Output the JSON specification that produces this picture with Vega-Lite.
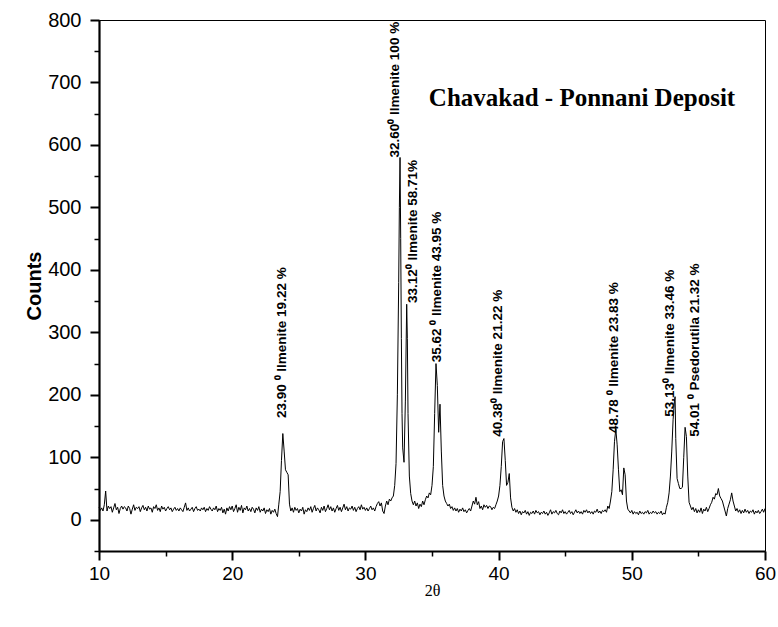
{
  "$schema": "https://vega.github.io/schema/vega-lite/v6.json",
  "width": 666,
  "height": 531,
  "autosize": {"type": "none"},
  "padding": {"left": 99, "top": 20, "right": 13, "bottom": 76},
  "background": "white",
  "config": {
    "view": {"stroke": "black", "strokeWidth": 1},
    "axis": {"grid": false, "domainColor": "black", "tickColor": "black", "labelColor": "black", "titleColor": "black", "labelFont": "Liberation Sans", "titleFont": "Liberation Sans"}
  },
  "datasets": {
    "xrd": [
      {"t":10.0,"c":20},{"t":10.1,"c":15},{"t":10.2,"c":19},{"t":10.3,"c":14},{"t":10.4,"c":24},{"t":10.5,"c":46},{"t":10.6,"c":14},{"t":10.7,"c":22},{"t":10.8,"c":18},{"t":10.9,"c":21},
      {"t":11.0,"c":12},{"t":11.1,"c":19},{"t":11.2,"c":26},{"t":11.3,"c":16},{"t":11.4,"c":20},{"t":11.5,"c":10},{"t":11.6,"c":18},{"t":11.7,"c":22},{"t":11.8,"c":17},{"t":11.9,"c":21},
      {"t":12.0,"c":19},{"t":12.1,"c":14},{"t":12.2,"c":22},{"t":12.3,"c":18},{"t":12.4,"c":9},{"t":12.5,"c":17},{"t":12.6,"c":24},{"t":12.7,"c":15},{"t":12.8,"c":20},{"t":12.9,"c":18},
      {"t":13.0,"c":21},{"t":13.1,"c":13},{"t":13.2,"c":19},{"t":13.3,"c":23},{"t":13.4,"c":16},{"t":13.5,"c":20},{"t":13.6,"c":14},{"t":13.7,"c":22},{"t":13.8,"c":17},{"t":13.9,"c":19},
      {"t":14.0,"c":12},{"t":14.1,"c":21},{"t":14.2,"c":18},{"t":14.3,"c":24},{"t":14.4,"c":15},{"t":14.5,"c":19},{"t":14.6,"c":13},{"t":14.7,"c":22},{"t":14.8,"c":17},{"t":14.9,"c":20},
      {"t":15.0,"c":14},{"t":15.1,"c":18},{"t":15.2,"c":21},{"t":15.3,"c":16},{"t":15.4,"c":19},{"t":15.5,"c":13},{"t":15.6,"c":17},{"t":15.7,"c":20},{"t":15.8,"c":15},{"t":15.9,"c":18},
      {"t":16.0,"c":14},{"t":16.1,"c":19},{"t":16.2,"c":16},{"t":16.3,"c":13},{"t":16.4,"c":20},{"t":16.5,"c":27},{"t":16.6,"c":15},{"t":16.7,"c":19},{"t":16.8,"c":14},{"t":16.9,"c":17},
      {"t":17.0,"c":20},{"t":17.1,"c":13},{"t":17.2,"c":18},{"t":17.3,"c":21},{"t":17.4,"c":15},{"t":17.5,"c":17},{"t":17.6,"c":14},{"t":17.7,"c":19},{"t":17.8,"c":16},{"t":17.9,"c":20},
      {"t":18.0,"c":13},{"t":18.1,"c":18},{"t":18.2,"c":15},{"t":18.3,"c":21},{"t":18.4,"c":17},{"t":18.5,"c":14},{"t":18.6,"c":19},{"t":18.7,"c":16},{"t":18.8,"c":22},{"t":18.9,"c":13},
      {"t":19.0,"c":18},{"t":19.1,"c":15},{"t":19.2,"c":20},{"t":19.3,"c":11},{"t":19.4,"c":17},{"t":19.5,"c":9},{"t":19.6,"c":19},{"t":19.7,"c":14},{"t":19.8,"c":21},{"t":19.9,"c":16},
      {"t":20.0,"c":22},{"t":20.1,"c":13},{"t":20.2,"c":18},{"t":20.3,"c":24},{"t":20.4,"c":12},{"t":20.5,"c":20},{"t":20.6,"c":15},{"t":20.7,"c":23},{"t":20.8,"c":11},{"t":20.9,"c":19},
      {"t":21.0,"c":16},{"t":21.1,"c":22},{"t":21.2,"c":14},{"t":21.3,"c":18},{"t":21.4,"c":13},{"t":21.5,"c":20},{"t":21.6,"c":17},{"t":21.7,"c":11},{"t":21.8,"c":19},{"t":21.9,"c":15},
      {"t":22.0,"c":21},{"t":22.1,"c":12},{"t":22.2,"c":17},{"t":22.3,"c":14},{"t":22.4,"c":19},{"t":22.5,"c":10},{"t":22.6,"c":16},{"t":22.7,"c":13},{"t":22.8,"c":18},{"t":22.9,"c":9},
      {"t":23.0,"c":15},{"t":23.1,"c":12},{"t":23.2,"c":17},{"t":23.3,"c":10},{"t":23.4,"c":5},{"t":23.5,"c":25},{"t":23.6,"c":45},{"t":23.7,"c":95},{"t":23.8,"c":138},{"t":23.9,"c":110},
      {"t":24.0,"c":80},{"t":24.1,"c":76},{"t":24.2,"c":72},{"t":24.3,"c":25},{"t":24.4,"c":14},{"t":24.5,"c":19},{"t":24.6,"c":12},{"t":24.7,"c":20},{"t":24.8,"c":15},{"t":24.9,"c":18},
      {"t":25.0,"c":11},{"t":25.1,"c":17},{"t":25.2,"c":14},{"t":25.3,"c":20},{"t":25.4,"c":9},{"t":25.5,"c":16},{"t":25.6,"c":13},{"t":25.7,"c":19},{"t":25.8,"c":15},{"t":25.9,"c":21},
      {"t":26.0,"c":12},{"t":26.1,"c":18},{"t":26.2,"c":23},{"t":26.3,"c":14},{"t":26.4,"c":19},{"t":26.5,"c":16},{"t":26.6,"c":11},{"t":26.7,"c":20},{"t":26.8,"c":15},{"t":26.9,"c":22},
      {"t":27.0,"c":13},{"t":27.1,"c":18},{"t":27.2,"c":24},{"t":27.3,"c":16},{"t":27.4,"c":21},{"t":27.5,"c":14},{"t":27.6,"c":19},{"t":27.7,"c":12},{"t":27.8,"c":18},{"t":27.9,"c":23},
      {"t":28.0,"c":15},{"t":28.1,"c":20},{"t":28.2,"c":13},{"t":28.3,"c":19},{"t":28.4,"c":25},{"t":28.5,"c":16},{"t":28.6,"c":21},{"t":28.7,"c":14},{"t":28.8,"c":19},{"t":28.9,"c":17},
      {"t":29.0,"c":22},{"t":29.1,"c":15},{"t":29.2,"c":20},{"t":29.3,"c":13},{"t":29.4,"c":18},{"t":29.5,"c":21},{"t":29.6,"c":16},{"t":29.7,"c":24},{"t":29.8,"c":17},{"t":29.9,"c":20},
      {"t":30.0,"c":15},{"t":30.1,"c":19},{"t":30.2,"c":14},{"t":30.3,"c":18},{"t":30.4,"c":22},{"t":30.5,"c":16},{"t":30.6,"c":19},{"t":30.7,"c":14},{"t":30.8,"c":21},{"t":30.9,"c":26},
      {"t":31.0,"c":29},{"t":31.1,"c":22},{"t":31.2,"c":27},{"t":31.3,"c":14},{"t":31.4,"c":10},{"t":31.5,"c":22},{"t":31.6,"c":30},{"t":31.7,"c":24},{"t":31.8,"c":33},{"t":31.9,"c":30},
      {"t":32.0,"c":35},{"t":32.1,"c":38},{"t":32.2,"c":55},{"t":32.3,"c":90},{"t":32.4,"c":200},{"t":32.5,"c":380},{"t":32.55,"c":500},{"t":32.6,"c":580},{"t":32.65,"c":450},{"t":32.7,"c":290},
      {"t":32.75,"c":170},{"t":32.8,"c":115},{"t":32.9,"c":92},{"t":33.0,"c":190},{"t":33.1,"c":345},{"t":33.15,"c":290},{"t":33.2,"c":170},{"t":33.3,"c":70},{"t":33.4,"c":42},{"t":33.5,"c":30},
      {"t":33.6,"c":24},{"t":33.7,"c":30},{"t":33.8,"c":22},{"t":33.9,"c":27},{"t":34.0,"c":18},{"t":34.1,"c":25},{"t":34.2,"c":21},{"t":34.3,"c":30},{"t":34.4,"c":24},{"t":34.5,"c":32},
      {"t":34.6,"c":38},{"t":34.7,"c":35},{"t":34.8,"c":43},{"t":34.9,"c":40},{"t":35.0,"c":55},{"t":35.1,"c":85},{"t":35.2,"c":170},{"t":35.3,"c":250},{"t":35.4,"c":215},{"t":35.5,"c":140},
      {"t":35.6,"c":185},{"t":35.7,"c":110},{"t":35.8,"c":55},{"t":35.9,"c":38},{"t":36.0,"c":30},{"t":36.1,"c":26},{"t":36.2,"c":22},{"t":36.3,"c":25},{"t":36.4,"c":18},{"t":36.5,"c":21},
      {"t":36.6,"c":15},{"t":36.7,"c":19},{"t":36.8,"c":14},{"t":36.9,"c":18},{"t":37.0,"c":12},{"t":37.1,"c":17},{"t":37.2,"c":14},{"t":37.3,"c":19},{"t":37.4,"c":13},{"t":37.5,"c":16},
      {"t":37.6,"c":11},{"t":37.7,"c":15},{"t":37.8,"c":18},{"t":37.9,"c":14},{"t":38.0,"c":22},{"t":38.1,"c":30},{"t":38.2,"c":25},{"t":38.3,"c":36},{"t":38.4,"c":24},{"t":38.5,"c":29},
      {"t":38.6,"c":18},{"t":38.7,"c":22},{"t":38.8,"c":16},{"t":38.9,"c":24},{"t":39.0,"c":20},{"t":39.1,"c":23},{"t":39.2,"c":18},{"t":39.3,"c":22},{"t":39.4,"c":21},{"t":39.5,"c":16},
      {"t":39.6,"c":20},{"t":39.7,"c":18},{"t":39.8,"c":24},{"t":39.9,"c":30},{"t":40.0,"c":38},{"t":40.1,"c":55},{"t":40.2,"c":85},{"t":40.3,"c":125},{"t":40.4,"c":130},{"t":40.5,"c":95},
      {"t":40.6,"c":55},{"t":40.7,"c":60},{"t":40.8,"c":74},{"t":40.9,"c":35},{"t":41.0,"c":20},{"t":41.1,"c":14},{"t":41.2,"c":18},{"t":41.3,"c":12},{"t":41.4,"c":16},{"t":41.5,"c":10},
      {"t":41.6,"c":14},{"t":41.7,"c":8},{"t":41.8,"c":13},{"t":41.9,"c":11},{"t":42.0,"c":15},{"t":42.1,"c":9},{"t":42.2,"c":13},{"t":42.3,"c":7},{"t":42.4,"c":12},{"t":42.5,"c":10},
      {"t":42.6,"c":14},{"t":42.7,"c":9},{"t":42.8,"c":15},{"t":42.9,"c":11},{"t":43.0,"c":13},{"t":43.1,"c":8},{"t":43.2,"c":12},{"t":43.3,"c":10},{"t":43.4,"c":14},{"t":43.5,"c":9},
      {"t":43.6,"c":12},{"t":43.7,"c":7},{"t":43.8,"c":11},{"t":43.9,"c":16},{"t":44.0,"c":9},{"t":44.1,"c":13},{"t":44.2,"c":11},{"t":44.3,"c":15},{"t":44.4,"c":10},{"t":44.5,"c":8},
      {"t":44.6,"c":14},{"t":44.7,"c":11},{"t":44.8,"c":16},{"t":44.9,"c":10},{"t":45.0,"c":13},{"t":45.1,"c":9},{"t":45.2,"c":12},{"t":45.3,"c":15},{"t":45.4,"c":10},{"t":45.5,"c":13},
      {"t":45.6,"c":8},{"t":45.7,"c":12},{"t":45.8,"c":16},{"t":45.9,"c":11},{"t":46.0,"c":14},{"t":46.1,"c":10},{"t":46.2,"c":13},{"t":46.3,"c":9},{"t":46.4,"c":15},{"t":46.5,"c":12},
      {"t":46.6,"c":16},{"t":46.7,"c":11},{"t":46.8,"c":14},{"t":46.9,"c":10},{"t":47.0,"c":13},{"t":47.1,"c":9},{"t":47.2,"c":14},{"t":47.3,"c":12},{"t":47.4,"c":17},{"t":47.5,"c":11},
      {"t":47.6,"c":14},{"t":47.7,"c":10},{"t":47.8,"c":15},{"t":47.9,"c":13},{"t":48.0,"c":16},{"t":48.1,"c":12},{"t":48.2,"c":22},{"t":48.3,"c":18},{"t":48.4,"c":30},{"t":48.5,"c":45},
      {"t":48.6,"c":80},{"t":48.7,"c":125},{"t":48.8,"c":145},{"t":48.9,"c":120},{"t":49.0,"c":80},{"t":49.1,"c":45},{"t":49.2,"c":48},{"t":49.3,"c":40},{"t":49.4,"c":83},{"t":49.5,"c":72},
      {"t":49.6,"c":30},{"t":49.7,"c":17},{"t":49.8,"c":14},{"t":49.9,"c":11},{"t":50.0,"c":15},{"t":50.1,"c":9},{"t":50.2,"c":13},{"t":50.3,"c":10},{"t":50.4,"c":12},{"t":50.5,"c":8},
      {"t":50.6,"c":14},{"t":50.7,"c":10},{"t":50.8,"c":12},{"t":50.9,"c":9},{"t":51.0,"c":13},{"t":51.1,"c":11},{"t":51.2,"c":15},{"t":51.3,"c":9},{"t":51.4,"c":12},{"t":51.5,"c":10},
      {"t":51.6,"c":14},{"t":51.7,"c":11},{"t":51.8,"c":13},{"t":51.9,"c":9},{"t":52.0,"c":12},{"t":52.1,"c":10},{"t":52.2,"c":14},{"t":52.3,"c":8},{"t":52.4,"c":11},{"t":52.5,"c":9},
      {"t":52.6,"c":20},{"t":52.7,"c":28},{"t":52.8,"c":43},{"t":52.9,"c":70},{"t":53.0,"c":110},{"t":53.1,"c":160},{"t":53.2,"c":190},{"t":53.25,"c":197},{"t":53.3,"c":130},{"t":53.4,"c":66},
      {"t":53.5,"c":58},{"t":53.6,"c":50},{"t":53.7,"c":50},{"t":53.8,"c":52},{"t":53.9,"c":100},{"t":54.0,"c":148},{"t":54.1,"c":133},{"t":54.2,"c":70},{"t":54.3,"c":28},{"t":54.4,"c":22},
      {"t":54.5,"c":16},{"t":54.6,"c":20},{"t":54.7,"c":13},{"t":54.8,"c":18},{"t":54.9,"c":11},{"t":55.0,"c":16},{"t":55.1,"c":12},{"t":55.2,"c":19},{"t":55.3,"c":10},{"t":55.4,"c":17},
      {"t":55.5,"c":14},{"t":55.6,"c":20},{"t":55.7,"c":13},{"t":55.8,"c":18},{"t":55.9,"c":24},{"t":56.0,"c":28},{"t":56.1,"c":36},{"t":56.2,"c":33},{"t":56.3,"c":42},{"t":56.4,"c":40},
      {"t":56.5,"c":50},{"t":56.6,"c":38},{"t":56.7,"c":34},{"t":56.8,"c":30},{"t":56.9,"c":22},{"t":57.0,"c":14},{"t":57.1,"c":6},{"t":57.2,"c":18},{"t":57.3,"c":25},{"t":57.4,"c":32},
      {"t":57.5,"c":43},{"t":57.6,"c":30},{"t":57.7,"c":22},{"t":57.8,"c":14},{"t":57.9,"c":18},{"t":58.0,"c":12},{"t":58.1,"c":16},{"t":58.2,"c":10},{"t":58.3,"c":15},{"t":58.4,"c":11},
      {"t":58.5,"c":17},{"t":58.6,"c":12},{"t":58.7,"c":15},{"t":58.8,"c":10},{"t":58.9,"c":14},{"t":59.0,"c":12},{"t":59.1,"c":16},{"t":59.2,"c":9},{"t":59.3,"c":14},{"t":59.4,"c":11},
      {"t":59.5,"c":15},{"t":59.6,"c":10},{"t":59.7,"c":13},{"t":59.8,"c":17},{"t":59.9,"c":12},{"t":60.0,"c":18}
    ],
    "labels": [
      {"t": 23.74, "c": 163, "label": "23.90 ⁰ Ilmenite 19.22 %"},
      {"t": 32.22, "c": 580, "label": "32.60⁰ Ilmenite 100 %"},
      {"t": 33.57, "c": 347, "label": "33.12⁰ Ilmenite 58.71%"},
      {"t": 35.38, "c": 252, "label": "35.62 ⁰ Ilmenite 43.95 %"},
      {"t": 39.95, "c": 133, "label": "40.38⁰ Ilmenite 21.22 %"},
      {"t": 48.66, "c": 139, "label": "48.78 ⁰ Ilmenite 23.83 %"},
      {"t": 52.87, "c": 165, "label": "53.13⁰ Ilmenite 33.46 %"},
      {"t": 54.74, "c": 133, "label": "54.01 ⁰ Psedorutila 21.32 %"}
    ],
    "heading": [
      {"t": 46.26, "c": 675, "label": "Chavakad - Ponnani Deposit"}
    ]
  },
  "resolve": {"axis": {"x": "independent", "y": "independent"}},
  "layer": [
    {
      "data": {"name": "xrd"},
      "mark": {"type": "line", "color": "black", "strokeWidth": 1, "interpolate": "linear"},
      "encoding": {
        "x": {"field": "t", "type": "quantitative", "scale": {"domain": [10, 60], "nice": false, "zero": false},
          "axis": {"orient": "bottom", "title": "2θ", "titleFont": "Liberation Serif", "titleFontWeight": "normal", "titleFontSize": 16, "titlePadding": -1,
            "values": [10, 20, 30, 40, 50, 60], "format": "d", "labelFontSize": 19, "labelPadding": 4,
            "tickSize": 9, "tickWidth": 2, "domainWidth": 2.2, "labelFlush": false}},
        "y": {"field": "c", "type": "quantitative", "scale": {"domain": [-50, 800], "nice": false, "zero": false},
          "axis": {"orient": "left", "title": "Counts", "titleFontSize": 20, "titleFontWeight": "bold", "titlePadding": 3,
            "values": [0, 100, 200, 300, 400, 500, 600, 700, 800], "format": "d", "labelFontSize": 20, "labelPadding": 9,
            "tickSize": 9, "tickWidth": 2, "domainWidth": 2.2, "labelFlush": false}}
      }
    },
    {
      "data": {"name": "labels"},
      "mark": {"type": "text", "angle": 270, "align": "left", "baseline": "middle", "font": "Liberation Sans", "fontWeight": "bold", "fontSize": 13.5, "color": "black"},
      "encoding": {
        "x": {"field": "t", "type": "quantitative", "scale": {"domain": [10, 60], "nice": false, "zero": false},
          "axis": {"orient": "bottom", "title": null, "labels": false, "domain": false, "values": [15, 25, 35, 45, 55], "tickSize": 5, "tickWidth": 1.5}},
        "y": {"field": "c", "type": "quantitative", "scale": {"domain": [-50, 800], "nice": false, "zero": false},
          "axis": {"orient": "left", "title": null, "labels": false, "domain": false, "values": [-50, 50, 150, 250, 350, 450, 550, 650, 750], "tickSize": 5, "tickWidth": 1.5}},
        "text": {"field": "label", "type": "nominal"}
      }
    },
    {
      "data": {"name": "heading"},
      "mark": {"type": "text", "align": "center", "baseline": "middle", "font": "Liberation Serif", "fontWeight": "bold", "fontSize": 25, "color": "black"},
      "encoding": {
        "x": {"field": "t", "type": "quantitative", "scale": {"domain": [10, 60], "nice": false, "zero": false}, "axis": null},
        "y": {"field": "c", "type": "quantitative", "scale": {"domain": [-50, 800], "nice": false, "zero": false}, "axis": null},
        "text": {"field": "label", "type": "nominal"}
      }
    }
  ]
}
